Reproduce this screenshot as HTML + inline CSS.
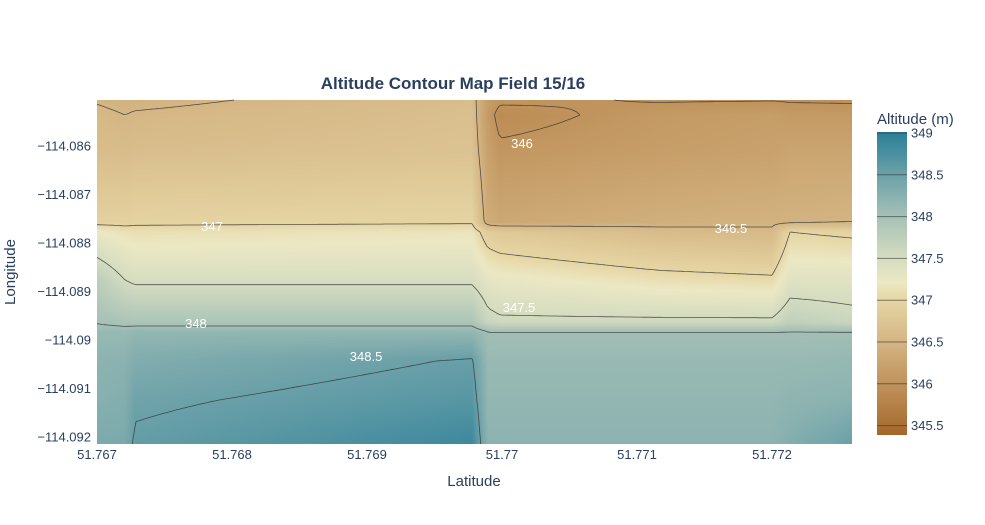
<!DOCTYPE html>
<html><head><meta charset="utf-8"><style>
body{margin:0;background:#fff;font-family:"Liberation Sans",sans-serif;}
#wrap{position:relative;width:985px;height:525px;}
svg{position:absolute;left:0;top:0}
canvas{position:absolute;left:97px;top:100px}
</style></head><body>
<div id="wrap">
<canvas id="hm" width="755" height="344"></canvas>
<svg id="svg" width="985" height="525"></svg>
</div>
<script>
const lats=[51.767,51.767207,51.767281,51.769778,51.769896,51.769985,51.77117,51.772,51.772133,51.772593];
const lons=[-114.085052,-114.085361,-114.086082,-114.087567,-114.087773,-114.088763,-114.089629,-114.089835,-114.090412,-114.091237,-114.092144];
const z=[
[346.48,346.44,346.45,346.62,346.15,346.05,345.98,345.99,345.98,345.97],
[346.55,346.50,346.52,346.65,346.12,345.90,346.10,346.15,346.10,346.10],
[346.62,346.60,346.62,346.70,346.20,346.05,346.15,346.20,346.25,346.25],
[346.92,346.92,346.95,346.97,346.35,346.30,346.40,346.45,346.45,346.48],
[347.22,347.12,347.10,347.15,346.85,346.80,346.60,346.55,347.00,346.95],
[347.75,347.5,347.45,347.45,347.30,347.25,347.10,347.05,347.35,347.35],
[347.98,347.92,347.90,347.90,347.60,347.55,347.55,347.55,347.70,347.60],
[348.10,348.10,348.15,348.15,348.02,348.02,348.02,348.02,348.02,348.02],
[348.20,348.22,348.30,348.52,348.10,348.10,348.10,348.10,348.10,348.12],
[348.25,348.28,348.45,348.65,348.15,348.15,348.15,348.15,348.18,348.22],
[348.35,348.35,348.55,348.85,348.20,348.20,348.20,348.20,348.28,348.5]];
const xTicks=[51.767,51.768,51.769,51.77,51.771,51.772];
const yTicks=[-114.086,-114.087,-114.088,-114.089,-114.09,-114.091,-114.092];
const levels=[345.5,346,346.5,347,347.5,348,348.5,349];
const cLabels=[["346",51.770148,-114.085938],["347",51.767852,-114.087649],["346.5",51.771696,-114.087691],["347.5",51.770126,-114.08932],["348",51.767733,-114.089649],["348.5",51.768993,-114.09033]];
const cbTicks=[349,348.5,348,347.5,347,346.5,346,345.5];

const X0=97,X1=852,Y0=100,Y1=444;
const xs=v=>97+(v-51.767)*135000;
const ys=v=>146+(-114.086-v)*48500;
const cb=v=>133+(349-v)*83.6;
const stops=[[345.38,[164,102,42]],[345.5,[170,112,53]],[346,[192,147,92]],[346.5,[212,182,132]],[347,[230,214,164]],[347.2,[236,232,196]],[347.5,[212,220,192]],[348,[164,192,182]],[348.5,[106,160,168]],[349,[42,127,152]]];
function col(v){if(v<=stops[0][0])return stops[0][1];for(let i=1;i<stops.length;i++){if(v<=stops[i][0]){const a=stops[i-1],b=stops[i],t=(v-a[0])/(b[0]-a[0]);return a[1].map((c,k)=>c+(b[1][k]-c)*t);}}return stops[stops.length-1][1];}
const gx=lats.map(xs), gy=lons.map(ys);
function seg(arr,v){let i=0;while(i<arr.length-2&&v>arr[i+1])i++;let t=(v-arr[i])/(arr[i+1]-arr[i]);return [i,Math.max(0,Math.min(1,t))];}
function zAt(px,py){const [i,t]=seg(gx,px),[j,u]=seg(gy,py);
return z[j][i]*(1-t)*(1-u)+z[j][i+1]*t*(1-u)+z[j+1][i]*(1-t)*u+z[j+1][i+1]*t*u;}
const ctx=document.getElementById('hm').getContext('2d');
const W=755,H=344,img=ctx.createImageData(W,H);
for(let y=0;y<H;y++)for(let x=0;x<W;x++){const c=col(zAt(X0+x+0.5,Y0+y+0.5));const o=(y*W+x)*4;img.data[o]=c[0];img.data[o+1]=c[1];img.data[o+2]=c[2];img.data[o+3]=255;}
ctx.putImageData(img,0,0);
const NS='http://www.w3.org/2000/svg',svg=document.getElementById('svg');
function el(t,a,p){const e=document.createElementNS(NS,t);for(const k in a)e.setAttribute(k,a[k]);(p||svg).appendChild(e);return e;}
const st=3;const nx=Math.ceil((X1-X0)/st),ny=Math.ceil((Y1-Y0)/st);
const gv=[];for(let j=0;j<=ny;j++){gv.push([]);for(let i=0;i<=nx;i++)gv[j].push(zAt(Math.min(X1,X0+i*st),Math.min(Y1,Y0+j*st)));}
const cg=el('g',{});


levels.forEach(L=>{let d='';
for(let j=0;j<ny;j++)for(let i=0;i<nx;i++){const x0=X0+i*st,y0=Y0+j*st,x1=Math.min(X1,x0+st),y1=Math.min(Y1,y0+st);
const a=gv[j][i],b=gv[j][i+1],c=gv[j+1][i+1],e=gv[j+1][i];const pts=[];
if((a-L)*(b-L)<0)pts.push([x0+(L-a)/(b-a)*(x1-x0),y0]);
if((b-L)*(c-L)<0)pts.push([x1,y0+(L-b)/(c-b)*(y1-y0)]);
if((e-L)*(c-L)<0)pts.push([x0+(L-e)/(c-e)*(x1-x0),y1]);
if((a-L)*(e-L)<0)pts.push([x0,y0+(L-a)/(e-a)*(y1-y0)]);
if(pts.length>=2)d+=`M${pts[0][0].toFixed(1)},${pts[0][1].toFixed(1)}L${pts[1][0].toFixed(1)},${pts[1][1].toFixed(1)}`;
if(pts.length==4)d+=`M${pts[2][0].toFixed(1)},${pts[2][1].toFixed(1)}L${pts[3][0].toFixed(1)},${pts[3][1].toFixed(1)}`;}
const p=el('path',{d:d,fill:'none',stroke:'rgba(50,50,50,0.8)','stroke-width':0.8},cg);

});
cLabels.forEach(l=>{const x=xs(l[1]),y=ys(l[2]);
const t=el('text',{x:x,y:y+5,'text-anchor':'middle','font-size':13,fill:'#fff'});t.textContent=l[0];

});
xTicks.forEach(v=>{const t=el('text',{x:xs(v),y:459,'text-anchor':'middle','font-size':13,fill:'#2a3f5f'});t.textContent=String(v);

});
yTicks.forEach(v=>{const t=el('text',{x:91,y:ys(v)+4.5,'text-anchor':'end','font-size':13,fill:'#2a3f5f'});t.textContent='\u2212'+String(-v);

});
const defs=el('defs',{});const lg=el('linearGradient',{id:'cbg',x1:0,y1:1,x2:0,y2:0},defs);
stops.forEach(s=>{el('stop',{offset:((s[0]-345.38)/(349-345.38)).toFixed(4),'stop-color':`rgb(${s[1].map(Math.round).join(',')})`},lg);});
const bar=el('rect',{x:877,y:132,width:30,height:303,fill:'url(#cbg)'});


cbTicks.forEach(v=>{el('line',{x1:877,x2:907,y1:cb(v),y2:cb(v),stroke:'rgba(50,50,50,0.6)','stroke-width':1});
const t=el('text',{x:911,y:cb(v)+4.5,'font-size':13,fill:'#2a3f5f'});t.textContent=String(v);

});
</script>
<svg width="985" height="525" style="position:absolute;left:0;top:0;pointer-events:none">
<text x="453" y="89" text-anchor="middle" font-size="17" font-weight="bold" fill="#2a3f5f">Altitude Contour Map Field 15/16</text>
<text x="474" y="486" text-anchor="middle" font-size="15" fill="#2a3f5f">Latitude</text>
<text transform="translate(15,272) rotate(-90)" text-anchor="middle" font-size="15" fill="#2a3f5f">Longitude</text>
<text x="877" y="124" font-size="15" fill="#2a3f5f">Altitude (m)</text>
</svg>
</body></html>
